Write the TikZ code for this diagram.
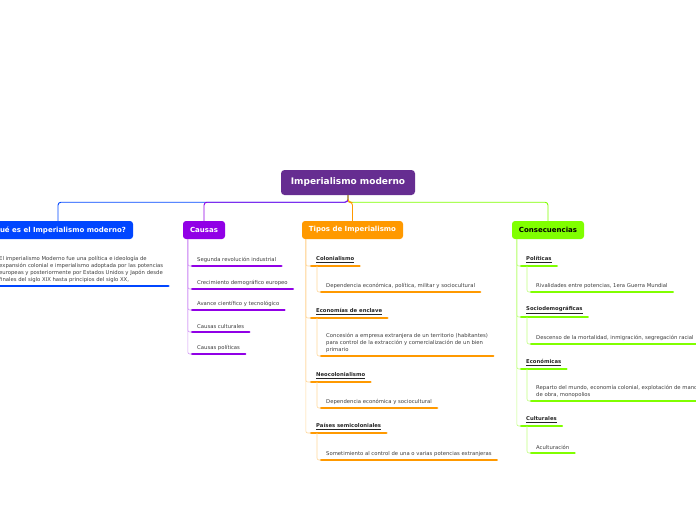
\documentclass[tikz,border=0pt]{standalone}
\usepackage{fontspec}
\setmainfont{DejaVu Sans}
\usepackage{tikz}

\definecolor{rootpurple}{RGB}{102,45,145}
\definecolor{qblue}{RGB}{0,70,255}
\definecolor{cpurple}{RGB}{145,0,230}
\definecolor{torange}{RGB}{255,153,0}
\definecolor{cgreen}{RGB}{128,255,0}
\definecolor{itemgray}{RGB}{60,60,60}

\begin{document}
\begin{tikzpicture}[x=1pt,y=-1pt,
    rootbox/.style={rounded corners=3.5pt, fill=rootpurple, text=white, font=\fontsize{9}{10}\selectfont\bfseries, minimum width=134pt, minimum height=25pt, inner sep=0pt},
    branchbox/.style={rounded corners=3pt, text=white, font=\fontsize{7}{8}\selectfont\bfseries, minimum height=18pt, inner sep=0pt},
    item/.style={anchor=south west, inner xsep=5pt, inner ysep=3.5pt, font=\fontsize{5.3}{7}\selectfont, align=left, text=itemgray},
    head/.style={item, font=\fontsize{5.3}{7}\selectfont\bfseries, text=black!85},
    conn/.style={line width=0.9pt, rounded corners=3pt},
    subconn/.style={line width=0.6pt, rounded corners=2pt},
    uline/.style={line width=2.6pt, line cap=round}]

    \useasboundingbox (0,0) rectangle (696,520);

    % Wurzel und Hauptaeste
    \node[rootbox] (root) at (348,182.5) {Imperialismo moderno};
    \node[branchbox, fill=qblue, minimum width=150pt] (que) at (58,230) {¿Qué es el Imperialismo moderno?};
    \node[branchbox, fill=cpurple, minimum width=42pt] (causas) at (204,230) {Causas};
    \node[branchbox, fill=torange, minimum width=101pt] (tipos) at (352.5,230) {Tipos de Imperialismo};
    \node[branchbox, fill=cgreen, text=black, minimum width=72pt] (consec) at (548,230) {Consecuencias};

    \draw[conn, qblue] (root.south) -- ++(0,7) -| (que.north);
    \draw[conn, cpurple] (root.south) -- ++(0,7) -| (causas.north);
    \draw[conn, cgreen] (root.south) -- ++(0,7) -| (consec.north);
    \draw[conn, torange] (root.south) -- ++(0,7) -| (tipos.north);

    % Definition
    \node[item] (qdesc) at (-6,286) {El imperialismo Moderno fue una política e ideología de\\expansión colonial e imperialismo adoptada por las potencias\\europeas y posteriormente por Estados Unidos y Japón desde\\finales del siglo XIX hasta principios del siglo XX,};
    \draw[uline, qblue] (qdesc.south west) -- (qdesc.south east);

    % Causas
    \foreach \name/\y/\txt in {ca1/266/Segunda revolución industrial,
                               ca2/289/Crecimiento demográfico europeo,
                               ca3/310/Avance científico y tecnológico,
                               ca4/332/Causas culturales,
                               ca5/354/Causas políticas}
    {
        \node[item] (\name) at (192,\y) {\txt};
        \draw[uline, cpurple] (\name.south west) -- (\name.south east);
        \draw[subconn, cpurple!40] ([xshift=5pt]causas.south west) |- (\name.south west);
    }

    % Tipos de imperialismo
    \foreach \name/\y/\txt/\sy/\stxt in {ti1/266/Colonialismo/292/{Dependencia económica, política, militar y sociocultural},
                                         ti2/318/Economías de enclave/356/{Concesión a empresa extranjera de un territorio (habitantes)\\para control de la extracción y comercialización de un bien\\primario},
                                         ti3/382/Neocolonialismo/408/Dependencia económica y sociocultural,
                                         ti4/433/Países semicoloniales/460/Sometimiento al control de una o varias potencias extranjeras}
    {
        \node[head] (\name) at (311,\y) {\underline{\txt}};
        \draw[uline, torange] (\name.south west) -- (\name.south east);
        \draw[subconn, torange!40] ([xshift=4pt]tipos.south west) |- (\name.south west);
        \node[item] (\name s) at (321,\sy) {\stxt};
        \draw[uline, torange] (\name s.south west) -- (\name s.south east);
        \draw[subconn, torange!40] ([xshift=6pt]\name.south west) |- (\name s.south west);
    }

    % Consecuencias
    \foreach \name/\y/\txt/\sy/\stxt in {co1/266/Políticas/292/{Rivalidades entre potencias, 1era Guerra Mundial},
                                         co2/317/Sociodemográficas/344/{Descenso de la mortalidad, inmigración, segregación racial},
                                         co3/369/Económicas/401/{Reparto del mundo, economía colonial, explotación de mano\\de obra, monopolios},
                                         co4/426/Culturales/453/Aculturación}
    {
        \node[head] (\name) at (521,\y) {\underline{\txt}};
        \draw[uline, cgreen] (\name.south west) -- (\name.south east);
        \draw[subconn, cgreen!50] ([xshift=5pt]consec.south west) |- (\name.south west);
        \node[item] (\name s) at (531,\sy) {\stxt};
        \draw[uline, cgreen] (\name s.south west) -- (\name s.south east);
        \draw[subconn, cgreen!50] ([xshift=6pt]\name.south west) |- (\name s.south west);
    }

\end{tikzpicture}
\end{document}
